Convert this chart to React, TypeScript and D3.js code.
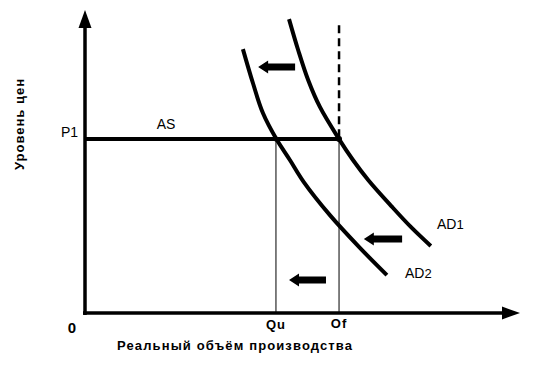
import React from "react";
import * as d3 from "d3";

// Data (in chart units: x 0..100 quantity, y 0..100 price)
const ad1X = [46.9, 49.0, 51.3, 54.0, 58.4, 61.6, 65.1, 70.6, 74.9, 79.5];
const ad1Y = [97.0, 86.8, 76.9, 68.0, 57.4, 50.5, 43.9, 35.0, 28.4, 22.1];
const ad2X = [36.3, 38.6, 40.9, 44.0, 47.1, 50.3, 56.3, 63.2, 69.4];
const ad2Y = [87.1, 75.9, 66.0, 57.4, 50.5, 43.2, 32.3, 21.5, 12.5];
const P1 = 57.4;
const Qu = 43.9;
const Qf = 58.4;
const dashTop = 95.0;
// shift arrows: [tipX, tailX, y]
const arrowTipX = [39.8, 64.1, 46.9];
const arrowTailX = [48.3, 72.9, 55.4];
const arrowY = [81.2, 24.4, 10.9];

const W = 550;
const H = 366;

export default function App() {
  const x = d3.scaleLinear().domain([0, 100]).range([85, 520]);
  const y = d3.scaleLinear().domain([0, 100]).range([313, 10]);

  const line = d3
    .line<[number, number]>()
    .x((d) => x(d[0]))
    .y((d) => y(d[1]))
    .curve(d3.curveCatmullRom.alpha(0.5));

  const ad1 = line(ad1X.map((v, i) => [v, ad1Y[i]] as [number, number])) || "";
  const ad2 = line(ad2X.map((v, i) => [v, ad2Y[i]] as [number, number])) || "";

  const x0 = x(0);
  const y0 = y(0);
  const xEnd = x(100);
  const yEnd = y(100);

  const arrows = arrowTipX.map((tx, i) => {
    const tip = x(tx);
    const tail = x(arrowTailX[i]);
    const cy = y(arrowY[i]);
    const hl = 10;
    const hw = 6.5;
    const sw = 3.5;
    return `M${tip},${cy} L${tip + hl},${cy - hw} L${tip + hl},${cy - sw} L${tail},${cy - sw} L${tail},${cy + sw} L${tip + hl},${cy + sw} L${tip + hl},${cy + hw} Z`;
  });

  const font = "Arial, 'Liberation Sans', sans-serif";

  return (
    <svg
      width={W}
      height={H}
      style={{ position: "absolute", left: 0, top: 0, background: "#fff" }}
      fontFamily={font}
    >
      <rect x={0} y={0} width={W} height={H} fill="#fff" />
      {/* thin verticals */}
      <line x1={x(Qu)} x2={x(Qu)} y1={y(P1)} y2={y0} stroke="#000" strokeWidth={1} />
      <line x1={x(Qf)} x2={x(Qf)} y1={y(P1)} y2={y0} stroke="#000" strokeWidth={1} />
      {/* dashed vertical */}
      <line
        x1={x(Qf)}
        x2={x(Qf)}
        y1={y(dashTop)}
        y2={y(P1)}
        stroke="#000"
        strokeWidth={2.5}
        strokeDasharray="8,5"
      />
      {/* AS line */}
      <line x1={x0} x2={x(Qf)} y1={y(P1)} y2={y(P1)} stroke="#000" strokeWidth={4} />
      {/* AD curves */}
      <path d={ad1} fill="none" stroke="#000" strokeWidth={4} />
      <path d={ad2} fill="none" stroke="#000" strokeWidth={4} />
      <circle cx={x(Qf)} cy={y(P1)} r={3} fill="#000" />
      <circle cx={x(Qu)} cy={y(P1)} r={2.5} fill="#000" />
      {/* axes */}
      <line x1={x0} x2={x0} y1={y0 + 2} y2={yEnd + 14} stroke="#000" strokeWidth={3.5} />
      <path d={`M${x0},${yEnd} L${x0 - 6.5},${yEnd + 18} L${x0 + 6.5},${yEnd + 18} Z`} fill="#000" />
      <line x1={x0 - 2} x2={xEnd - 14} y1={y0} y2={y0} stroke="#000" strokeWidth={3.5} />
      <path d={`M${xEnd},${y0} L${xEnd - 18},${y0 - 6.5} L${xEnd - 18},${y0 + 6.5} Z`} fill="#000" />
      {/* shift arrows */}
      {arrows.map((d, i) => (
        <path key={i} d={d} fill="#000" />
      ))}
      {/* labels */}
      <text x={78} y={137} fontSize={14} textAnchor="end">P1</text>
      <text x={166} y={129} fontSize={14} textAnchor="middle">AS</text>
      <text x={437} y={229} fontSize={14}>
        AD<tspan fontSize={13}>1</tspan>
      </text>
      <text x={405} y={278} fontSize={14}>
        AD<tspan fontSize={13}>2</tspan>
      </text>
      <text x={72} y={333} fontSize={15} fontWeight="bold" textAnchor="middle">0</text>
      <text x={x(Qu)} y={329} fontSize={13} fontWeight="bold" textAnchor="middle" letterSpacing={1}>Qu</text>
      <text x={x(Qf)} y={328} fontSize={13} fontWeight="bold" textAnchor="middle" letterSpacing={1}>Of</text>
      <text
        x={117}
        y={350}
        fontSize={13}
        fontWeight="bold"
        textLength={235}
        lengthAdjust="spacing"
      >
        Реальный объём производства
      </text>
      <text
        transform="translate(24,124) rotate(-90)"
        fontSize={13}
        fontWeight="bold"
        textAnchor="middle"
        letterSpacing={1}
      >
        Уровень цен
      </text>
    </svg>
  );
}
